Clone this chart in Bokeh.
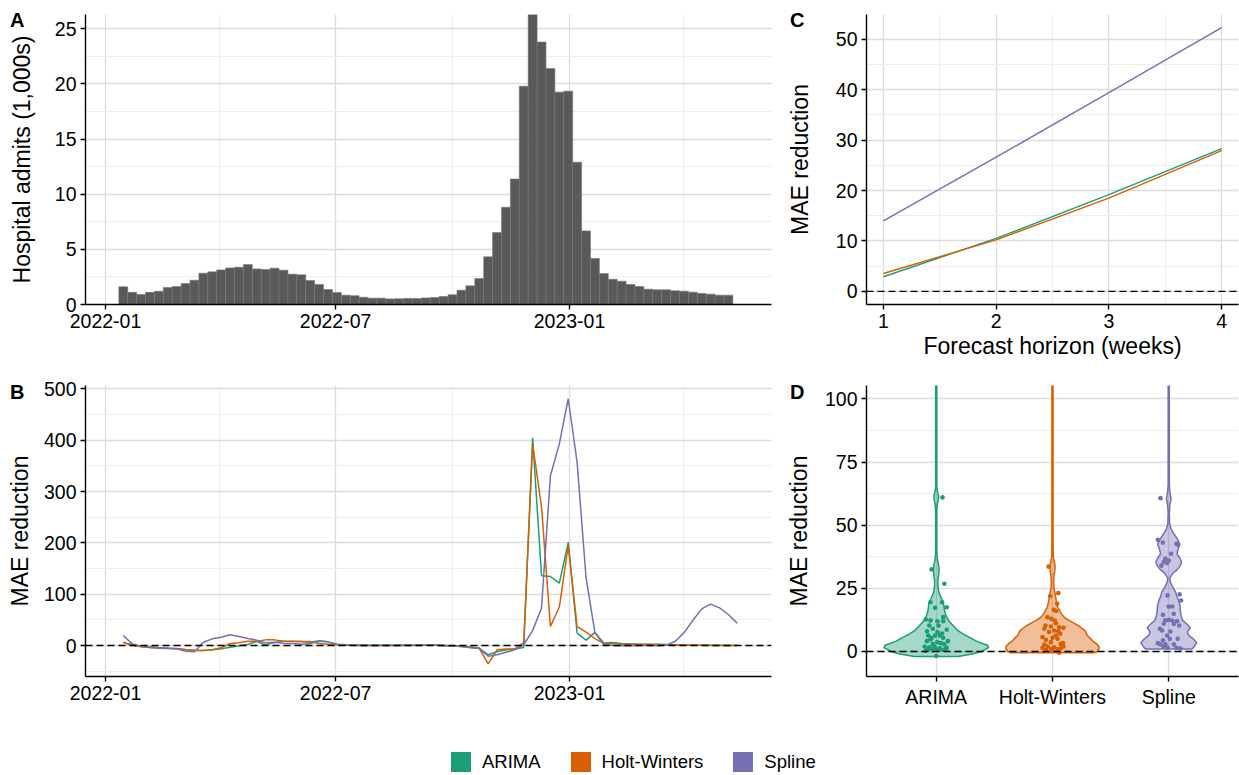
import numpy as np
import pandas as pd
from bokeh.plotting import figure
from bokeh.layouts import column
from bokeh.models import (Range1d, FixedTicker, DatetimeTickFormatter, Span, Div, GridBox,
                          Legend, LegendItem)
from bokeh.embed import file_html
from bokeh.resources import INLINE

FONT = "Liberation Sans"
MODELS = ["ARIMA", "Holt-Winters", "Spline"]
COLORS = ["#1B9E77", "#D95F02", "#7570B3"]
PANEL_LETTERS = ["A", "B", "C", "D"]

# ---------------- data ----------------
admit_first_week = "2022-01-15"
admits_thousands = [1.6, 1.1, 0.9, 1.1, 1.2, 1.55, 1.63, 1.9, 2.2, 2.84, 2.96, 3.14, 3.32, 3.38,
                    3.62, 3.23, 3.17, 3.29, 3.11, 2.75, 2.69, 2.17, 1.81, 1.36, 1.09, 0.85, 0.8,
                    0.66, 0.57, 0.57, 0.51, 0.52, 0.54, 0.54, 0.6, 0.63, 0.72, 0.88, 1.3, 1.69,
                    2.36, 4.32, 6.52, 8.82, 11.38, 19.8, 26.36, 23.8, 21.4, 19.26, 19.35, 12.9,
                    6.67, 4.17, 2.81, 2.29, 2.11, 1.81, 1.63, 1.39, 1.33, 1.33, 1.24, 1.21, 1.12,
                    1.0, 0.94, 0.85, 0.85]

mae_first_week = "2022-01-15"
mae_arima = [6, 1.3, -2, -3.9, -5.2, -5.8, -6.5, -8.4, -9.1, -9.7,
             -8.4, -6.5, -3.2, -0.6, 2.6, 7.8, 1.3, 5.8, 8.4, 8.4,
             7.8, 6.5, 9.1, 7.1, 2.6, 1.3, 0.5, 0.4, 0.3, 0.3,
             0.3, 0.4, 0.4, 0.5, 0.5, 0.5, 0, -0.5, -1.5, -3,
             -5, -18, -12, -8.4, -7, -4, 405, 136, 134.5, 121.5,
             201, 24, 10.5, 25.5, 4.8, 6, 3.9, 3.2, 2.6, 2.6,
             2.6, 2, 0.6, 0.8, 0.5, 0.4, 0.3, 0.3, 0.3, 0.3]
mae_holt_winters = [6.5, 0, -2.6, -3.9, -4.5, -5.2, -5.8, -7.8, -9.7, -9.7,
                    -8.4, -4.5, 3.9, 5.2, 8.4, 8.4, 11, 11, 8.4, 7.8,
                    7.8, 7.8, 3.9, 2.6, 1.3, 0.6, 0, -0.3, -0.4, -0.4,
                    -0.4, -0.3, -0.2, 0, 0.3, 0.3, 0, -1, -2, -3,
                    -5.8, -35.7, -8.4, -7, -6.5, 5.5, 393, 270, 37, 75,
                    195, 37, 26, 13.5, 4, 3.2, 2.6, 2, 2, 2,
                    1.3, 1.3, 1.3, 1, 0.5, 0.3, 0, 0, -0.3, 0]
mae_spline = [19.5, 3.2, -1.3, -2.6, -3.9, -5.2, -6.5, -11, -12.3, 6.5,
              13, 16.2, 20.8, 17.5, 13.6, 10.4, 5.2, 6.5, 4.5, 3.9,
              2.6, 3.9, 8.4, 7.1, 1.9, 1.3, 1.0, 0.8, 0.7, 0.6,
              0.7, 0.8, 0.6, 0.5, 0.5, 0.5, 0, -1, -2, -4.5,
              -6, -20.8, -18, -13, -8.4, 2, 29, 73, 331, 393,
              481, 357, 133, 25, 2, 0, -0.6, -0.6, 0, 0,
              -0.6, 0.6, 7.8, 24.7, 48.7, 71.5, 80.6, 73.4, 60.4, 43.5]

horizon_weeks = [1, 2, 3, 4]
horizon_arima = [2.9, 10.5, 19.2, 28.3]
horizon_holt_winters = [3.55, 10.2, 18.5, 27.9]
horizon_spline = [14.0, 26.6, 39.4, 52.3]

# violin outlines: level and half width (category units)
violin_arima_y = [-2.0, -1.0, 0.0, 1.5, 2.5, 4.0, 5.5, 7.0, 8.5, 10.0, 12.0, 14.0, 16.0, 18.0,
                  19.5, 21.0, 22.5, 24.0, 26.0, 28.0, 30.0, 32.0, 34.0, 36.0, 38.0, 41.0, 56.0,
                  58.5, 60.0, 61.5, 63.0, 65.0, 405.0]
violin_arima_w = [0.19, 0.31, 0.39, 0.45, 0.44, 0.35, 0.29, 0.23, 0.18, 0.15, 0.11, 0.085, 0.072,
                  0.066, 0.06, 0.045, 0.03, 0.02, 0.015, 0.014, 0.02, 0.024, 0.022, 0.012, 0.007,
                  0.005, 0.005, 0.01, 0.018, 0.021, 0.012, 0.005, 0.004]
violin_hw_y = [-0.5, 0.0, 1.0, 2.0, 3.0, 4.0, 5.0, 6.3, 8.3, 10.0, 11.2, 12.3, 13.6, 15.0, 17.5,
               20.0, 22.8, 25.5, 28.0, 30.0, 32.0, 34.0, 36.0, 38.0, 42.0, 393.0]
violin_hw_w = [0.36, 0.385, 0.40, 0.40, 0.38, 0.35, 0.33, 0.30, 0.28, 0.23, 0.185, 0.14, 0.10,
               0.075, 0.045, 0.032, 0.023, 0.012, 0.01, 0.013, 0.02, 0.022, 0.013, 0.006, 0.005,
               0.004]
violin_spline_y = [1.0, 2.0, 3.5, 5.0, 6.5, 7.7, 9.4, 10.7, 12.3, 14.2, 16.0, 18.0, 20.2, 22.0,
                   23.5, 25.5, 27.4, 29.0, 31.0, 32.5, 34.0, 35.5, 37.0, 38.7, 40.5, 42.5, 44.5,
                   46.5, 48.5, 50.5, 55.0, 58.0, 60.5, 63.0, 66.0, 481.0]
violin_spline_w = [0.2, 0.22, 0.24, 0.21, 0.17, 0.16, 0.185, 0.16, 0.12, 0.106, 0.1, 0.097, 0.085,
                   0.068, 0.06, 0.034, 0.014, 0.009, 0.035, 0.075, 0.1, 0.11, 0.095, 0.07, 0.08,
                   0.095, 0.075, 0.045, 0.02, 0.008, 0.005, 0.01, 0.02, 0.01, 0.005, 0.004]

# jittered points: value and horizontal jitter
points_arima = [61.0, 32.5, 26.8, 19.5, 19.5, 17.3, 17.5, 13.6, 12.7, 12.3, 12.0, 12.0, 10.3,
                10.3, 9.0, 8.6, 7.7, 6.3, 6.3, 6.3, 5.4, 5.4, 4.1, 4.1, 3.7, 3.0, 2.8, 2.0, 1.7,
                1.5, 1.3, 1.5, 0.8, 0.7, 0.7, 0.4, -1.8, 0.3, 1.0, 2.3, 3.3, 4.8, 7.1, 8.0, 1.1]
jitter_arima = [0.054, -0.04, 0.07, -0.05, 0.05, -0.01, 0.09, 0.06, -0.09, -0.05, 0.01, 0.06,
                -0.06, 0.02, -0.03, 0.09, 0.01, -0.07, -0.01, 0.03, -0.04, 0.06, 0.1, -0.08,
                0.01, -0.03, 0.07, -0.1, -0.06, -0.01, 0.03, 0.09, -0.08, 0.01, 0.05, -0.03, 0.0,
                -0.09, 0.08, -0.02, 0.04, -0.05, 0.05, -0.08, -0.05]
points_hw = [33.6, 23.1, 22.0, 18.9, 16.5, 16.0, 13.6, 12.9, 12.3, 10.3, 9.9, 9.6, 9.4, 9.0,
             8.3, 7.7, 7.0, 5.7, 5.4, 5.0, 4.6, 3.7, 3.0, 2.8, 2.0, 1.7, 2.0, 1.5, 1.05, 0.9, 0.7,
             0.4, -0.5, 6.3, 3.3, 1.2, 11.2, 8.0]
jitter_hw = [-0.034, 0.05, -0.02, 0.04, 0.01, 0.03, -0.043, -0.01, 0.02, -0.06, -0.014, 0.057,
             0.094, -0.07, 0.014, -0.03, 0.066, -0.086, 0.0, 0.043, -0.057, -0.014, 0.071,
             -0.071, -0.043, 0.014, 0.094, -0.086, -0.014, 0.043, -0.057, 0.0, 0.057, 0.03,
             0.09, 0.07, 0.03, 0.05]
points_spline = [60.7, 44.2, 43.1, 42.6, 42.3, 38.7, 36.7, 36.0, 35.4, 35.0, 34.0, 22.2, 22.6,
                 20.2, 17.8, 17.8, 14.9, 14.5, 12.3, 12.5, 12.3, 12.0, 10.9, 11.0, 10.3, 9.0, 8.3,
                 7.9, 6.3, 5.0, 5.0, 4.4, 3.3, 2.8, 2.8, 2.8, 2.0, 1.5, 1.5, 1.2]
jitter_spline = [-0.071, -0.094, -0.051, 0.066, 0.08, 0.02, -0.03, 0.0, -0.043, -0.014, -0.063,
                 -0.01, 0.094, 0.106, 0.0, 0.03, 0.043, -0.05, -0.03, 0.0, 0.03, 0.071, 0.043,
                 -0.043, 0.09, -0.077, -0.057, 0.014, -0.014, 0.077, 0.009, -0.05, -0.094,
                 -0.071, -0.029, 0.043, -0.043, 0.066, -0.009, 0.1]

date_ticks = ["2022-01-01", "2022-07-01", "2023-01-01"]
date_minor_ticks = ["2022-04-01", "2022-10-01", "2023-04-01"]


def ms(d):
    return pd.Timestamp(d).value / 1e6


DAY = 86400000.0
X0 = ms("2022-01-01")
date_range = (X0 - 15.73 * DAY, X0 + 523.9 * DAY)


def style(p, ylab_standoff, xlab_standoff=4):
    p.outline_line_color = None
    p.background_fill_color = "white"
    for ax in p.axis:
        ax.axis_line_color = "black"
        ax.axis_line_width = 1.4
        ax.major_tick_line_color = "black"
        ax.major_tick_line_width = 1.4
        ax.major_tick_out = 5
        ax.major_tick_in = 0
        ax.minor_tick_line_color = None
        ax.major_label_text_font = FONT
        ax.major_label_text_font_size = "19.5px"
        ax.major_label_text_color = "black"
        ax.major_label_standoff = 4
        ax.axis_label_text_font = FONT
        ax.axis_label_text_font_size = "23px"
        ax.axis_label_text_font_style = "normal"
        ax.axis_label_text_color = "black"
    for ax in p.yaxis:
        ax.axis_label_standoff = ylab_standoff
    for ax in p.xaxis:
        ax.axis_label_standoff = xlab_standoff
    p.grid.grid_line_color = "#dcdcdc"
    p.grid.grid_line_width = 1.3
    p.grid.minor_grid_line_color = "#ededed"
    p.grid.minor_grid_line_width = 1.0


def letter_div(txt, top, left):
    html = ("<div style=\"font-family: 'Liberation Sans'; font-weight: bold; "
            "font-size: 20px; line-height: 20px; color: black; margin: 0; padding: 0;\">"
            + txt + "</div>")
    return Div(text=html, width=30, height=30, margin=(top, 0, 0, left))


def zero_line(p):
    p.add_layout(Span(location=0, dimension="width", line_color="black",
                      line_dash="7 4", line_width=1.4))


def date_axis(p):
    p.xaxis.ticker = FixedTicker(ticks=[ms(d) for d in date_ticks],
                                 minor_ticks=[ms(d) for d in date_minor_ticks])
    fmt = "%Y-%m"
    p.xaxis.formatter = DatetimeTickFormatter(years=fmt, months=fmt, days=fmt, hours=fmt,
                                              hourmin=fmt, minutes=fmt, minsec=fmt,
                                              seconds=fmt, milliseconds=fmt, microseconds=fmt)


# ---------------- panel A ----------------
pA = figure(width=780, height=370, x_axis_type="datetime", output_backend="svg",
            toolbar_location=None, x_range=Range1d(*date_range), y_range=Range1d(0, 26.3),
            min_border_left=85, min_border_right=9, min_border_top=14, min_border_bottom=66)
admit_dates = pd.date_range(admit_first_week, periods=len(admits_thousands), freq="7D")
pA.vbar(x=admit_dates, top=admits_thousands, bottom=0, width=7 * DAY,
        fill_color="#595959", line_color="#767676", line_width=0.6)
date_axis(pA)
pA.yaxis.ticker = FixedTicker(ticks=[0, 5, 10, 15, 20, 25],
                              minor_ticks=[2.5, 7.5, 12.5, 17.5, 22.5])
pA.yaxis.axis_label = "Hospital admits (1,000s)"
style(pA, 17)

# ---------------- panel B ----------------
pB = figure(width=780, height=365, x_axis_type="datetime", output_backend="svg",
            toolbar_location=None, x_range=Range1d(*date_range), y_range=Range1d(-60.4, 506.8),
            min_border_left=85, min_border_right=9, min_border_top=15, min_border_bottom=59)
mae_dates = pd.date_range(mae_first_week, periods=len(mae_arima), freq="7D")
zero_line(pB)
for series, c in zip([mae_arima, mae_holt_winters, mae_spline], COLORS):
    pB.line(x=mae_dates, y=series, line_color=c, line_width=1.5)
date_axis(pB)
pB.yaxis.ticker = FixedTicker(ticks=[0, 100, 200, 300, 400, 500],
                              minor_ticks=[-50, 50, 150, 250, 350, 450])
pB.yaxis.axis_label = "MAE reduction"
style(pB, 8)

# ---------------- panel C ----------------
pC = figure(width=459, height=370, output_backend="svg", toolbar_location=None,
            x_range=Range1d(0.85, 4.15), y_range=Range1d(-2.6, 54.9),
            min_border_left=86, min_border_right=1, min_border_top=14, min_border_bottom=66)
zero_line(pC)
for series, c in zip([horizon_arima, horizon_holt_winters, horizon_spline], COLORS):
    pC.line(x=horizon_weeks, y=series, line_color=c, line_width=1.4)
pC.xaxis.ticker = FixedTicker(ticks=[1, 2, 3, 4], minor_ticks=[1.5, 2.5, 3.5])
pC.yaxis.ticker = FixedTicker(ticks=[0, 10, 20, 30, 40, 50],
                              minor_ticks=[5, 15, 25, 35, 45])
pC.xaxis.axis_label = "Forecast horizon (weeks)"
pC.yaxis.axis_label = "MAE reduction"
style(pC, 20, 2)

# ---------------- panel D ----------------
pD = figure(width=459, height=365, output_backend="svg", toolbar_location=None,
            x_range=Range1d(-0.6, 2.6), y_range=Range1d(-9.9, 105.3),
            min_border_left=86, min_border_right=1, min_border_top=15, min_border_bottom=59)
violins = [(violin_arima_y, violin_arima_w), (violin_hw_y, violin_hw_w),
           (violin_spline_y, violin_spline_w)]
points = [(points_arima, jitter_arima), (points_hw, jitter_hw), (points_spline, jitter_spline)]
for i, ((vy, vw), (pv, pj), c) in enumerate(zip(violins, points, COLORS)):
    vy = np.asarray(vy, float)
    vw = np.asarray(vw, float)
    xs = np.concatenate([i - vw, (i + vw)[::-1]])
    ys = np.concatenate([vy, vy[::-1]])
    pD.patch(x=xs, y=ys, fill_color=c, fill_alpha=0.4, line_color=c, line_width=1.5)
    pD.scatter(x=i + np.asarray(pj), y=pv, size=4.6, color=c, line_width=0)
zero_line(pD)
pD.xaxis.ticker = FixedTicker(ticks=[0, 1, 2])
pD.xaxis.major_label_overrides = {0: MODELS[0], 1: MODELS[1], 2: MODELS[2]}
pD.yaxis.ticker = FixedTicker(ticks=[0, 25, 50, 75, 100], minor_ticks=[12.5, 37.5, 62.5, 87.5])
pD.yaxis.axis_label = "MAE reduction"
style(pD, 10)

# ---------------- legend ----------------
pL = figure(width=1239, height=40, output_backend="svg", toolbar_location=None,
            x_range=Range1d(0, 1), y_range=Range1d(0, 1), x_axis_type=None, y_axis_type=None,
            min_border=0, outline_line_color=None)
pL.grid.visible = False
items = []
for m, c in zip(MODELS, COLORS):
    # proxy glyph outside the visible range: only its legend swatch is shown
    r = pL.rect(x=[-10], y=[-10], width=1, height=1, fill_color=c, line_color=None)
    items.append(LegendItem(label=m, renderers=[r]))
legend = Legend(items=items, orientation="horizontal", location=(448, 1),
                glyph_width=25, glyph_height=25, label_standoff=9, spacing=27,
                label_text_font=FONT, label_text_font_size="18.5px", label_text_color="black",
                border_line_color=None, background_fill_alpha=0, padding=0, margin=0)
pL.add_layout(legend)

# ---------------- panel letters overlaid on the panels' top-left corners ----------------
dA = letter_div(PANEL_LETTERS[0], 10, 10)
dB = letter_div(PANEL_LETTERS[1], 12, 10)
dC = letter_div(PANEL_LETTERS[2], 10, 10)
dD = letter_div(PANEL_LETTERS[3], 12, 10)

grid = GridBox(children=[(pA, 0, 0), (pC, 0, 1), (pB, 1, 0), (pD, 1, 1),
                         (dA, 0, 0), (dC, 0, 1), (dB, 1, 0), (dD, 1, 1)], spacing=0)
open("out.html", "w").write(file_html(column(grid, pL, spacing=0), INLINE))
